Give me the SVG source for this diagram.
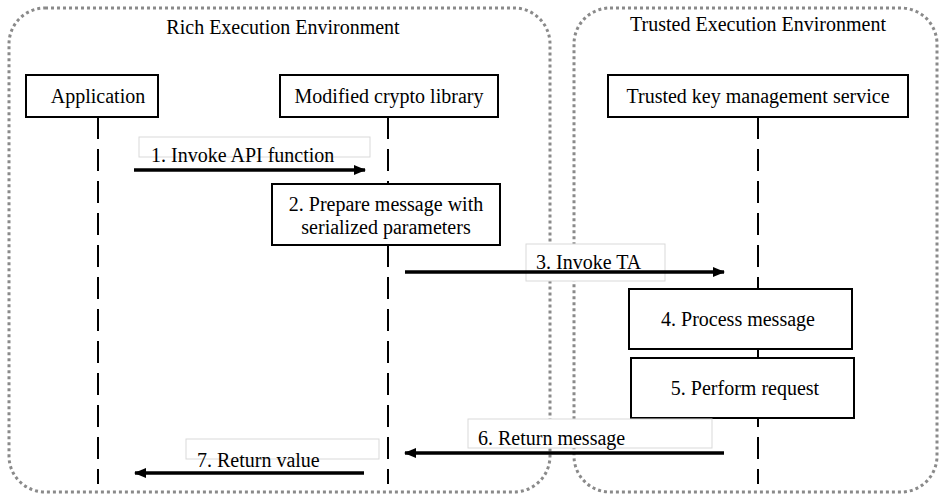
<svg xmlns="http://www.w3.org/2000/svg" width="939" height="495" viewBox="0 0 939 495">
<style>
.env{fill:none;stroke:#8a8a8a;stroke-width:3;stroke-dasharray:3 3}
.box{fill:#fff;stroke:#000;stroke-width:2}
.lbl{fill:#fff;stroke:#d9d9d9;stroke-width:1}
.life{stroke:#000;stroke-width:2;stroke-dasharray:22 10;fill:none}
.msg{stroke:#000;stroke-width:3.5;fill:none}
text{font-family:'Liberation Serif','Times New Roman',serif;font-size:20px;fill:#000}
.c{text-anchor:middle}
</style>
<defs>
<marker id="ah" viewBox="0 0 12 10" refX="11" refY="5" markerWidth="12" markerHeight="10" markerUnits="userSpaceOnUse" orient="auto">
<path d="M0,0 L12,5 L0,10 Z" fill="#000"/>
</marker>
</defs>
<g id="ree">
<rect class="env" x="9" y="8" width="541" height="484" rx="36"/>
<text class="c" x="283" y="34">Rich Execution Environment</text>
</g>
<g id="tee">
<rect class="env" x="574" y="8" width="363" height="484" rx="36"/>
<text class="c" x="758" y="31">Trusted Execution Environment</text>
</g>
<g id="lifelines">
<line class="life" x1="98" y1="117" x2="98" y2="484"/>
<line class="life" x1="388" y1="117" x2="388" y2="484"/>
<line class="life" x1="758" y1="117" x2="758" y2="484"/>
</g>
<g id="application">
<rect class="box" x="26" y="75" width="132" height="42"/>
<text class="c" x="98" y="103">Application</text>
</g>
<g id="crypto">
<rect class="box" x="280" y="75" width="218" height="42"/>
<text class="c" x="389" y="103">Modified crypto library</text>
</g>
<g id="tkms">
<rect class="box" x="608" y="75" width="300" height="42"/>
<text class="c" x="758" y="103">Trusted key management service</text>
</g>
<g id="step2">
<rect class="box" x="272" y="184" width="228" height="61"/>
<text class="c" x="386" y="211">2. Prepare message with</text>
<text class="c" x="386" y="234">serialized parameters</text>
</g>
<g id="step4">
<rect class="box" x="629" y="289" width="223" height="60"/>
<text class="c" x="738" y="326">4. Process message</text>
</g>
<g id="step5">
<rect class="box" x="631" y="358" width="223" height="60"/>
<text class="c" x="745" y="395">5. Perform request</text>
</g>
<g id="connectors">
<rect class="lbl" x="139" y="137" width="231" height="20"/>
<line class="msg" x1="134" y1="170" x2="365" y2="170" marker-end="url(#ah)"/>
<text x="151" y="162">1. Invoke API function</text>
<rect class="lbl" x="526" y="244" width="139" height="37"/>
<line class="msg" x1="405" y1="272" x2="724" y2="272" marker-end="url(#ah)"/>
<text x="536" y="269">3. Invoke TA</text>
<rect class="lbl" x="468" y="419" width="244" height="29"/>
<line class="msg" x1="724" y1="453" x2="405" y2="453" marker-end="url(#ah)"/>
<text x="478" y="445">6. Return message</text>
<rect class="lbl" x="186" y="439" width="193" height="20"/>
<line class="msg" x1="364" y1="473" x2="135" y2="473" marker-end="url(#ah)"/>
<text x="197" y="467">7. Return value</text>
</g>
</svg>
